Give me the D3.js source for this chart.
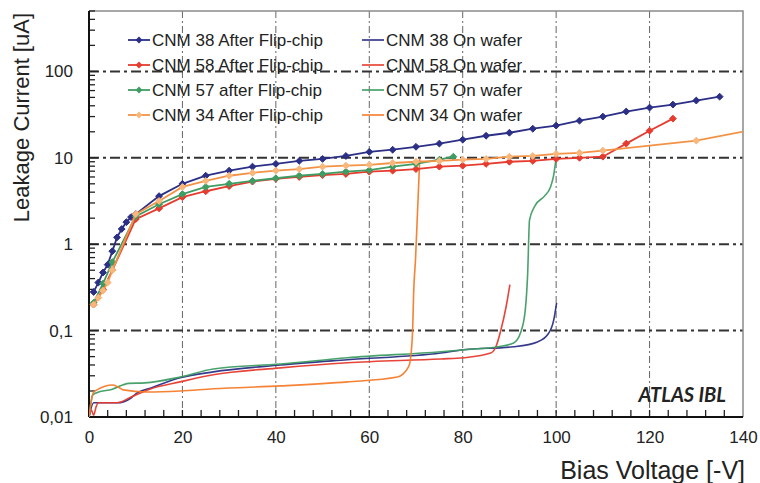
<!DOCTYPE html>
<html><head><meta charset="utf-8">
<script src="https://cdn.jsdelivr.net/npm/d3@7"></script>
<style>
html,body{margin:0;padding:0;background:#fff;}
svg{display:block;font-family:"Liberation Sans",Arial,sans-serif;}
</style></head>
<body><div id="chart"></div>
<script>
// ---------- DATA ----------
const seriesNames = ["CNM 38 After Flip-chip","CNM 58 After Flip-chip","CNM 57 after Flip-chip","CNM 34 After Flip-chip",
                     "CNM 38 On wafer","CNM 58 On wafer","CNM 57 On wafer","CNM 34 On wafer"];
const xTicks = [0,20,40,60,80,100,120,140];
const yTicks = [0.01,0.1,1,10,100];
const yTickLabels = ["0,01","0,1","1","10","100"];

// After flip-chip (with markers)
const v38a = [1,2,3,4,5,6,7,8,9,10,15,20,25,30,35,40,45,50,55,60,65,70,75,80,85,90,95,100,105,110,115,120,125,130,135];
const i38a = [0.28,0.36,0.47,0.58,0.83,1.2,1.5,1.8,2.06,2.23,3.6,5.0,6.2,7.1,7.9,8.5,9.2,9.7,10.5,11.7,12.4,13.4,14.6,16.2,18.0,19.5,21.7,23.6,26.9,30,34.3,38.1,41.3,46,51];
const v58a = [1,3,5,10,15,20,25,30,35,40,45,50,55,60,65,70,75,80,85,90,95,100,105,110,115,120,125];
const i58a = [0.2,0.3,0.5,1.95,2.6,3.5,4.1,4.7,5.3,5.7,6.0,6.3,6.5,6.9,7.1,7.4,7.9,8.1,8.5,9.0,9.2,9.7,10.0,10.3,14.6,20.6,28.4];
const v57a = [1,3,5,10,15,20,25,30,35,40,45,50,55,60,65,70,75,78];
const i57a = [0.21,0.35,0.62,2.1,2.9,3.8,4.6,5.0,5.4,5.8,6.2,6.5,6.9,7.2,7.9,8.5,9.5,10.3];
const v34a = [1,2,3,4,5,10,15,20,25,30,35,40,45,50,55,60,65,70,75,80,85,90,95,100,105,110,130,145];
const i34a = [0.2,0.24,0.29,0.36,0.5,2.23,3.16,4.6,5.4,6.2,6.7,7.1,7.4,7.9,8.1,8.3,8.7,9.0,9.2,9.5,9.7,10.3,10.5,11.1,11.4,12.1,15.8,22.6];

// On wafer (lines only)
const v38w = [0,1,6,9,10.3,13.3,19.5,26.6,41,55.3,75.3,80.2,90.9,96,98.2,99.5,100.1];
const i38w = [0.010,0.0146,0.0146,0.0166,0.019,0.0217,0.0284,0.0333,0.040,0.046,0.055,0.060,0.065,0.074,0.090,0.134,0.21];
const v58w = [0,0.5,1,1.5,2,6,9,13,19.5,26.6,41,55.3,75.3,80.2,86,87.1,88.2,89.3,90.1];
const i58w = [0.010,0.012,0.0105,0.013,0.0146,0.0146,0.017,0.021,0.0255,0.0308,0.037,0.0425,0.047,0.0485,0.055,0.065,0.103,0.19,0.34];
const v57w = [0,0.8,1.5,5,8.5,12,19.5,26.6,41,55.3,75.3,80.2,87.5,90.9,92.4,93.4,93.9,94.3,95.5,97.5,98.8,99.4,100];
const i57w = [0.010,0.018,0.019,0.021,0.0245,0.0248,0.029,0.036,0.041,0.0485,0.057,0.060,0.065,0.072,0.095,0.175,0.45,1.9,2.8,3.6,4.6,6,10];
const v34w = [0,0.9,1.7,5.1,6.2,7.3,12.4,19.5,26.6,41,55.3,66,68.4,68.8,69.3,69.5,69.9,70.8];
const i34w = [0.010,0.019,0.0206,0.0235,0.0223,0.0206,0.0195,0.020,0.0212,0.0229,0.0255,0.029,0.038,0.046,0.111,0.277,0.67,9.7];

const colors = ["#2b2f86","#e63b2e","#3f9d63","#f5a25a","#2b2f86","#e63b2e","#3f9d63","#f47b2a"];

// ---------- LAYOUT ----------
const W = 760, H = 483;
const m = {left:89, top:11, right:17, bottom:66};
const pw = W - m.left - m.right, ph = H - m.top - m.bottom;

const svg = d3.select("#chart").append("svg").attr("width",W).attr("height",H);
const g = svg.append("g").attr("transform",`translate(${m.left},${m.top})`);

const x = d3.scaleLinear().domain([0,140]).range([0,pw]);
const y = d3.scaleLog().domain([0.01,500]).range([ph,0]);

svg.append("defs").append("clipPath").attr("id","clip")
  .append("rect").attr("width",pw).attr("height",ph);

// grid
g.append("g").selectAll("line").data(xTicks.filter(d=>d>0 && d<140)).join("line")
  .attr("x1",d=>x(d)).attr("x2",d=>x(d)).attr("y1",0).attr("y2",ph)
  .attr("stroke","#666").attr("stroke-width",1).attr("stroke-dasharray","7,3,2,3");
g.append("g").selectAll("line").data(yTicks.filter(d=>d>0.01)).join("line")
  .attr("x1",0).attr("x2",pw).attr("y1",d=>y(d)).attr("y2",d=>y(d))
  .attr("stroke","#333").attr("stroke-width",2).attr("stroke-dasharray","10,4,3,4");

// frame top/right
g.append("path").attr("d",`M0,0H${pw}V${ph}`).attr("fill","none").attr("stroke","#8a8a8a").attr("stroke-width",1.5);

// minor ticks inward
const yMinor = [];
[0.01,0.1,1,10,100].forEach(d=>{for(let k=1;k<=9;k++){const v=d*k; if(v<=500) yMinor.push(v);} });
g.append("g").selectAll("line").data(yMinor).join("line")
  .attr("x1",0).attr("x2",d=>(Math.abs(Math.log10(d)-Math.round(Math.log10(d)))<1e-6)?9:6)
  .attr("y1",d=>y(d)).attr("y2",d=>y(d)).attr("stroke","#222").attr("stroke-width",1.3);
g.append("g").selectAll("line").data(d3.range(4,140,4)).join("line")
  .attr("x1",d=>x(d)).attr("x2",d=>x(d)).attr("y1",ph).attr("y2",ph-7)
  .attr("stroke","#222").attr("stroke-width",1.3);

// axes
const xAxis = d3.axisBottom(x).tickValues(xTicks).tickSize(0).tickPadding(14);
const gx = g.append("g").attr("transform",`translate(0,${ph})`).call(xAxis);
gx.select(".domain").remove();
gx.selectAll("text").attr("font-size",17).attr("fill","#222").attr("font-family","Liberation Sans, Arial, sans-serif");

const yAxis = d3.axisLeft(y).tickValues(yTicks).tickFormat((d,i)=>yTickLabels[i]).tickSize(0).tickPadding(16);
const gy = g.append("g").call(yAxis);
gy.select(".domain").remove();
gy.selectAll("text").attr("font-size",17).attr("fill","#222").attr("font-family","Liberation Sans, Arial, sans-serif");

g.append("line").attr("x1",0).attr("x2",0).attr("y1",0).attr("y2",ph).attr("stroke","#111").attr("stroke-width",2);
g.append("line").attr("x1",0).attr("x2",pw).attr("y1",ph).attr("y2",ph).attr("stroke","#111").attr("stroke-width",2);

// series
const after = [[v38a,i38a],[v58a,i58a],[v57a,i57a],[v34a,i34a]];
const wafer = [[v38w,i38w],[v58w,i58w],[v57w,i57w],[v34w,i34w]];
const plot = g.append("g").attr("clip-path","url(#clip)");
const lineL = d3.line().x(d=>x(d[0])).y(d=>y(d[1]));
const lineS = d3.line().x(d=>x(d[0])).y(d=>y(d[1])).curve(d3.curveMonotoneX);
const diamond = d3.symbol().type(d3.symbolDiamond2).size(30);
const markerFill = ["#2b2f86","#e63b2e","#3f9d63","#f8b77c"];

wafer.forEach(([vs,is],k)=>{
  const pts = vs.map((v,i)=>[v,is[i]]);
  plot.append("path").datum(pts).attr("d",lineS).attr("fill","none")
    .attr("stroke",colors[4+k]).attr("stroke-width",1.6).attr("stroke-opacity",0.95);
});
after.forEach(([vs,is],k)=>{
  const pts = vs.map((v,i)=>[v,is[i]]);
  plot.append("path").datum(pts).attr("d",lineL).attr("fill","none")
    .attr("stroke",k===3?"#f39245":colors[k]).attr("stroke-width",1.8);
  plot.append("g").selectAll("path").data(pts).join("path")
    .attr("transform",d=>`translate(${x(d[0])},${y(d[1])})`).attr("d",diamond)
    .attr("fill",markerFill[k]).attr("stroke",markerFill[k]).attr("stroke-width",1);
});

// legend
const legRows = [40,65,90,115];
const leg = svg.append("g");
[0,1,2,3].forEach(k=>{
  const yy = legRows[k];
  leg.append("line").attr("x1",128).attr("x2",150).attr("y1",yy).attr("y2",yy)
    .attr("stroke",k===3?"#f39245":colors[k]).attr("stroke-width",1.8);
  leg.append("path").attr("transform",`translate(139,${yy})`).attr("d",diamond).attr("fill",markerFill[k]);
  leg.append("text").attr("x",152).attr("y",yy+6).attr("font-size",17).attr("fill","#222").text(seriesNames[k]);
  leg.append("line").attr("x1",362).attr("x2",384).attr("y1",yy).attr("y2",yy)
    .attr("stroke",colors[4+k]).attr("stroke-width",1.6);
  leg.append("text").attr("x",386).attr("y",yy+6).attr("font-size",17).attr("fill","#222").text(seriesNames[4+k]);
});

// ATLAS IBL
svg.append("text").attr("x",726).attr("y",402).attr("text-anchor","end")
  .attr("font-family","Lato, 'Open Sans', sans-serif").attr("font-style","italic").attr("font-weight","bold")
  .attr("font-size",20).attr("fill","#222").text("ATLAS IBL");

// axis titles
svg.append("text").attr("x",745).attr("y",479).attr("text-anchor","end")
  .attr("font-size",25).attr("fill","#222").text("Bias Voltage [-V]");
svg.append("text").attr("transform","translate(29,13) rotate(-90)").attr("text-anchor","end")
  .attr("font-size",22).attr("fill","#222").text("Leakage Current [uA]");
</script>
</body></html>
